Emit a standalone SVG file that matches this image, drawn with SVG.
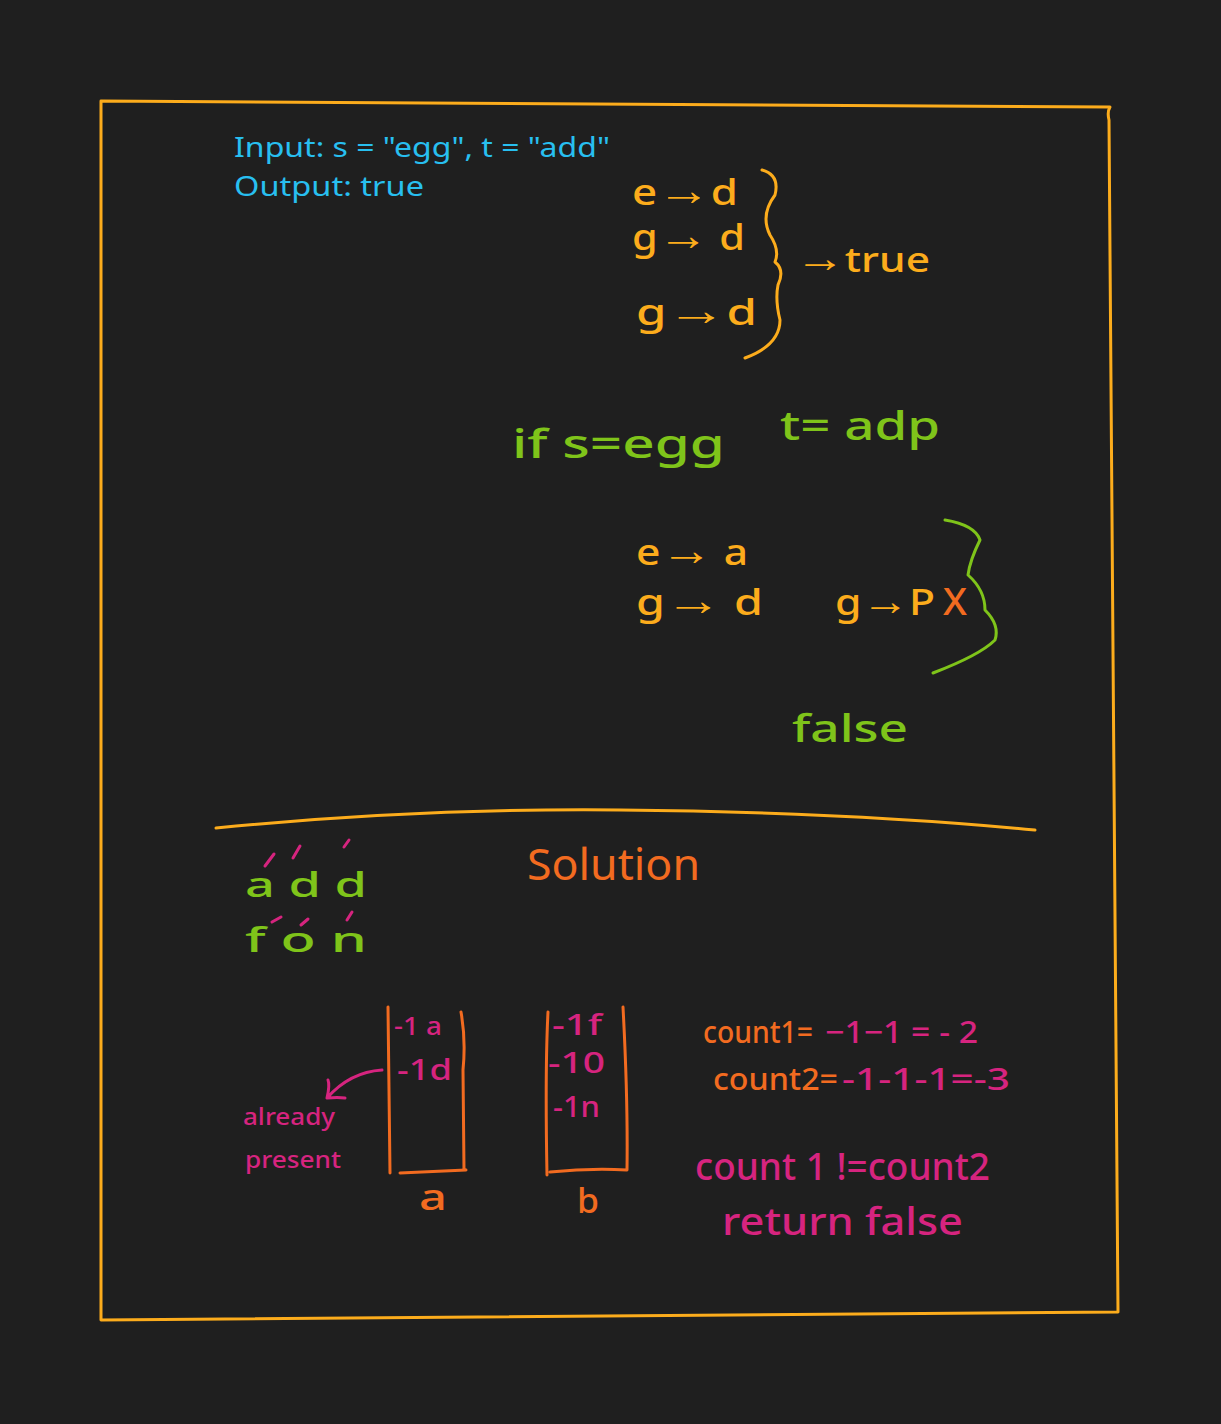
<svg xmlns="http://www.w3.org/2000/svg" width="1221" height="1424" viewBox="0 0 1221 1424">
<defs>
<style>
.t{font-family:"Noto Sans","Liberation Sans",sans-serif;}
.h{font-weight:500}
.y{fill:#fcac1c}.g{fill:#7fc41a}.o{fill:#f26b20}.p{fill:#d6247f}.b{fill:#28bff0}
.s{fill:none;stroke-linecap:round;stroke-linejoin:round}
.sy{stroke:#fcac1c}.sg{stroke:#7fc41a}.so{stroke:#f26b20}.sp{stroke:#d6247f}
</style>
</defs>
<rect width="1221" height="1424" fill="#1f1f1f"/>
<g id="frame">
<path class="s sy" stroke-width="3" d="M101 101 L1110 107 Q1107 112 1109 120 L1118 1312 L101 1320 L101 101"/>
</g>
<g id="problem">
<text class="t b" x="234" y="157" font-size="28" textLength="376" lengthAdjust="spacingAndGlyphs">Input: s = "egg", t = "add"</text>
<text class="t b" x="234" y="196" font-size="28" textLength="190" lengthAdjust="spacingAndGlyphs">Output: true</text>
</g>
<g id="mapping-true">
<text class="t h y" x="632" y="205" font-size="36" textLength="106" lengthAdjust="spacingAndGlyphs">e<tspan font-size="44">→</tspan>d</text>
<text class="t h y" x="632" y="250" font-size="36" textLength="113" lengthAdjust="spacingAndGlyphs">g<tspan font-size="44">→</tspan> d</text>
<text class="t h y" x="636" y="325" font-size="36" textLength="121" lengthAdjust="spacingAndGlyphs">g<tspan font-size="44">→</tspan>d</text>
<text class="t h y" x="795" y="272" font-size="34" textLength="135" lengthAdjust="spacingAndGlyphs"><tspan font-size="40">→</tspan>true</text>
</g>
<g id="example-false">
<text class="t h g" x="512" y="458" font-size="40" textLength="213" lengthAdjust="spacingAndGlyphs">if s=egg</text>
<text class="t h g" x="780" y="440" font-size="40" textLength="160" lengthAdjust="spacingAndGlyphs">t= adp</text>
<text class="t h y" x="636" y="565" font-size="36" textLength="112" lengthAdjust="spacingAndGlyphs">e<tspan font-size="44">→</tspan> a</text>
<text class="t h y" x="636" y="615" font-size="36" textLength="127" lengthAdjust="spacingAndGlyphs">g<tspan font-size="44">→</tspan>  d</text>
<text class="t h y" x="835" y="615" font-size="36" textLength="100" lengthAdjust="spacingAndGlyphs">g<tspan font-size="40">→</tspan>P</text>
<text class="t h o" x="943" y="615" font-size="38" textLength="24" lengthAdjust="spacingAndGlyphs">X</text>
<text class="t h g" x="792" y="742" font-size="38" textLength="116" lengthAdjust="spacingAndGlyphs">false</text>
</g>
<g id="divider">
<path class="s sy" stroke-width="3" d="M216 828 Q420 808 620 810 Q850 812 1035 830"/>
</g>
<g id="solution-title">
<text class="t o" x="527" y="880" font-size="44" textLength="173" lengthAdjust="spacingAndGlyphs">Solution</text>
</g>
<g id="letters">
<text class="t h g" x="245" y="897" font-size="34" textLength="122" lengthAdjust="spacingAndGlyphs">a d  d</text>
<text class="t h g" x="245" y="952" font-size="34" textLength="122" lengthAdjust="spacingAndGlyphs">f o  n</text>
<path class="s sp" stroke-width="3" d="M265 866 L274 854 M293 858 L300 846 M344 847 L349 840 M272 922 L281 917 M301 925 L308 919 M347 920 L352 912"/>
</g>
<g id="map-a">
<path class="s so" stroke-width="3" d="M388 1007 L390 1173 M461 1012 Q466 1040 463 1070 L464 1170 M400 1173 L466 1170"/>
<text class="t h p" x="394" y="1035" font-size="26" textLength="48" lengthAdjust="spacingAndGlyphs">-1 a</text>
<text class="t h p" x="397" y="1080" font-size="28" textLength="55" lengthAdjust="spacingAndGlyphs">-1d</text>
<text class="t h o" x="419" y="1210" font-size="36" textLength="28" lengthAdjust="spacingAndGlyphs">a</text>
</g>
<g id="map-b">
<path class="s so" stroke-width="3" d="M548 1012 Q545 1070 547 1175 M623 1007 Q628 1100 627 1170 M550 1172 Q590 1168 627 1170"/>
<text class="t h p" x="552" y="1035" font-size="28" textLength="50" lengthAdjust="spacingAndGlyphs">-1f</text>
<text class="t h p" x="548" y="1073" font-size="28" textLength="57" lengthAdjust="spacingAndGlyphs">-10</text>
<text class="t h p" x="553" y="1117" font-size="28" textLength="47" lengthAdjust="spacingAndGlyphs">-1n</text>
<text class="t h o" x="577" y="1213" font-size="34" textLength="22" lengthAdjust="spacingAndGlyphs">b</text>
</g>
<g id="note-already">
<text class="t h p" x="243" y="1125" font-size="24" textLength="92" lengthAdjust="spacingAndGlyphs">already</text>
<text class="t h p" x="245" y="1168" font-size="24" textLength="96" lengthAdjust="spacingAndGlyphs">present</text>
</g>
<g id="counts">
<text class="t h o" x="703" y="1043" font-size="30" textLength="110" lengthAdjust="spacingAndGlyphs">count1=</text>
<text class="t h p" x="825" y="1043" font-size="30" textLength="153" lengthAdjust="spacingAndGlyphs">−1−1 = - 2</text>
<text class="t h o" x="713" y="1090" font-size="30" textLength="125" lengthAdjust="spacingAndGlyphs">count2=</text>
<text class="t h p" x="842" y="1090" font-size="30" textLength="168" lengthAdjust="spacingAndGlyphs">-1-1-1=-3</text>
<text class="t h p" x="695" y="1180" font-size="38" textLength="295" lengthAdjust="spacingAndGlyphs">count 1 !=count2</text>
<text class="t h p" x="722" y="1235" font-size="38" textLength="241" lengthAdjust="spacingAndGlyphs">return false</text>
</g>
<g id="connectors">
<path class="s sy" stroke-width="3" d="M762 170 Q780 175 775 195 Q760 215 770 235 Q780 250 775 262 Q785 270 778 285 Q775 300 780 320 Q780 345 745 358"/>
<path class="s sg" stroke-width="3" d="M945 520 Q975 525 980 540 Q970 560 968 575 Q985 590 985 610 Q1000 625 995 640 Q980 655 933 673"/>
<path class="s sp" stroke-width="3" d="M382 1070 Q350 1072 327 1098 M327 1098 Q330 1085 328 1080 M327 1098 Q338 1097 345 1098"/>
</g>
</svg>
